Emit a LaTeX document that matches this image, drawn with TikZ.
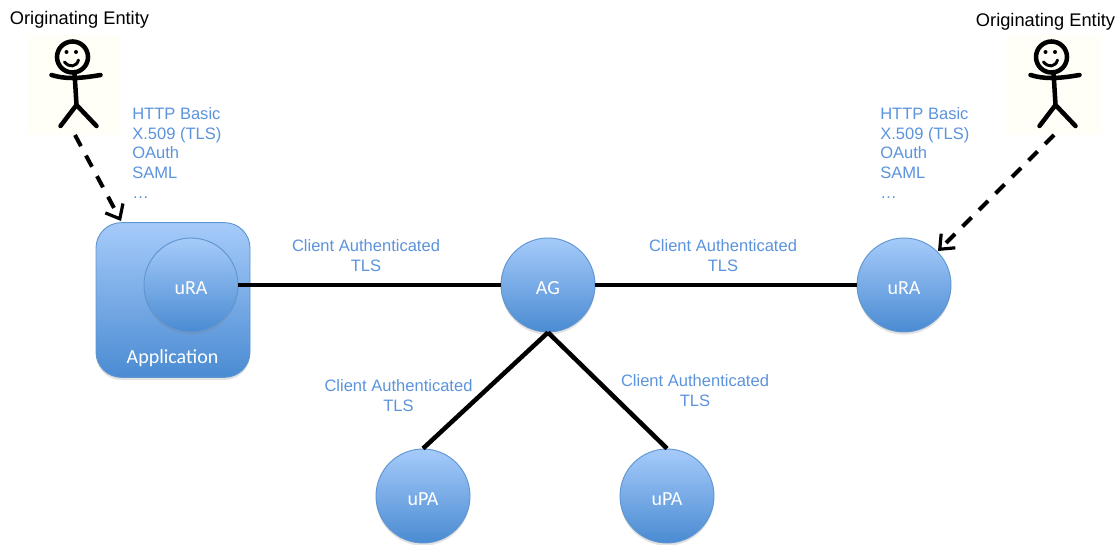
\documentclass[tikz,border=0pt]{standalone}
\usepackage{fontspec}
\setmainfont{Liberation Sans}
\newfontfamily\calib{Carlito}
\usetikzlibrary{shadows,arrows.meta}
\definecolor{labelblue}{HTML}{5B93DC}
\definecolor{topblue}{HTML}{A6CBFA}
\definecolor{botblue}{HTML}{4A8BD2}
\definecolor{edgeblue}{HTML}{5F96CF}
\definecolor{paper}{HTML}{FFFFF8}
\tikzset{
  x=0.75pt,y=-0.75pt,
  soft/.style={drop shadow={shadow xshift=0pt,shadow yshift=-2pt,opacity=.22}},
  bluefill/.style={draw=edgeblue,line width=.7pt,top color=topblue,bottom color=botblue,middle color=topblue!50!botblue,soft,
    text=white,font=\calib\fontsize{15}{17}\selectfont,inner sep=0pt},
  circ/.style={bluefill,circle,minimum size=70.5pt,text height=13.5pt,text depth=0pt},
  appbox/.style={bluefill,rounded corners=19pt,minimum width=115.5pt,minimum height=116pt},
  lbl/.style={text=labelblue,font=\fontsize{12.4}{15}\selectfont,align=center,inner sep=0pt},
  lst/.style={text=labelblue,font=\fontsize{12.4}{14.85}\selectfont,align=left,inner sep=0pt,anchor=north west},
  ent/.style={text=black,font=\fontsize{13.7}{16}\selectfont,inner sep=0pt},
  link/.style={black,line width=3.4pt},
  dashlink/.style={black,line width=3pt,dash pattern=on 9.5pt off 8pt,-{Straight Barb[length=9pt,width=15pt,line width=2.4pt]}},
  paperbox/.style={fill=paper,draw=none,minimum width=71pt,minimum height=75pt,inner sep=0pt},
  stickline/.style={black,line width=3.4pt,line cap=round,line join=round},
  stickfig/.pic={
    \draw[stickline] (0,0) circle (15.5);
    \draw[stickline,line width=2.2pt] (-8,5) .. controls (-3,11) and (4,10) .. (6,3);
    \fill (-6,-5) circle (2) (3.5,-5) circle (2);
    \draw[stickline] (-21,18) .. controls (-8,22) and (5,22) .. (28,18);
    \draw[stickline] (2,15) -- (4,48);
    \draw[stickline] (-12,69) -- (4,48) -- (24,69);
  }
}
\begin{document}
\begin{tikzpicture}
\useasboundingbox (0,0) rectangle (1119,545);
\node[paperbox] (figL) at (74.5,85) {};
\node[paperbox] (figR) at (1053.5,85) {};
\pic at (72.5,57) {stickfig};
\pic at (1051.5,57) {stickfig};
\node[ent] (entL) at (79.5,19.5) {Originating Entity};
\node[ent] (entR) at (1045.5,21.5) {Originating Entity};
\node[lst] (listL) at (132,107) {HTTP Basic\\X.509 (TLS)\\OAuth\\SAML\\…};
\node[lst] (listR) at (880,107) {HTTP Basic\\X.509 (TLS)\\OAuth\\SAML\\…};
\node[appbox] (app) at (173,300) {};
\node[circ] (uraL) at (191,285) {uRA};
\node[text=white,font=\calib\fontsize{15}{17}\selectfont,inner sep=0pt] (applabel) at (172.5,358.5) {Application};
\node[circ] (ag) at (548,285) {AG};
\node[circ] (uraR) at (904,285) {uRA};
\node[circ] (upaL) at (423,496) {uPA};
\node[circ] (upaR) at (667,496) {uPA};
\node[lbl] (t1) at (366,255.5) {Client Authenticated\\TLS};
\node[lbl] (t2) at (723,255.5) {Client Authenticated\\TLS};
\node[lbl] (t3) at (398.5,395.5) {Client Authenticated\\TLS};
\node[lbl] (t4) at (695,390.5) {Client Authenticated\\TLS};
\coordinate (dL) at (75,135);
\coordinate (aL) at (121,221);
\coordinate (dR) at (1054,135);
\coordinate (aR) at (938,251);
\draw[link] (uraL.east) -- (ag.west);
\draw[link] (ag.east) -- (uraR.west);
\draw[link] (ag.south) -- (upaL.north);
\draw[link] (ag.south) -- (upaR.north);
\draw[dashlink] (dL) -- (aL);
\draw[dashlink] (dR) -- (aR);
\end{tikzpicture}
\end{document}
